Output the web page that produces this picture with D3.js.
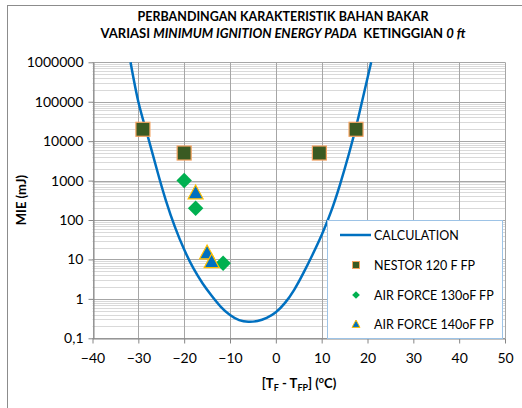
<!DOCTYPE html>
<html>
<head>
<meta charset="utf-8">
<script src="https://cdn.jsdelivr.net/npm/d3@7"></script>
<style>
  body { margin: 0; background: #fff; }
  svg { font-family: Lato, "Open Sans", sans-serif; }
</style>
</head>
<body>
<div id="chart"></div>
<script>
// calculation curve
const calcX = [-31.7, -30, -28, -26, -24, -22, -20, -18, -16, -14, -12, -10, -8, -6, -4, -2, 0, 2, 4, 6, 8, 10, 12, 14, 16, 18, 20.8];
const calcY = [1000000, 100000, 14100, 2000, 316, 66, 17.8, 6.0, 2.5, 1.2, 0.63, 0.39, 0.29, 0.263, 0.275, 0.33, 0.457, 0.79, 1.7, 4.5, 13.2, 41.7, 158, 794, 5000, 39800, 1000000];

// measured points
const nestorX = [-29, -20, 9.5, 17.5];
const nestorY = [20000, 5000, 5000, 20000];
const af130X = [-20, -17.5, -11.5];
const af130Y = [1000, 200, 8];
const af140X = [-17.5, -15, -14];
const af140Y = [500, 15, 9];

const xTicks = [-40, -30, -20, -10, 0, 10, 20, 30, 40, 50];
const yTicks = [0.1, 1, 10, 100, 1000, 10000, 100000, 1000000];
const yTickLabels = ["0,1", "1", "10", "100", "1000", "10000", "100000", "1000000"];
const legendLabels = ["CALCULATION", "NESTOR 120 F FP", "AIR FORCE 130oF FP", "AIR FORCE 140oF FP"];

const width = 522, height = 408;
const plot = {left: 92.5, right: 505, top: 62.3, bottom: 338.3};

const svg = d3.select("#chart")
    .append("svg")
    .attr("width", width)
    .attr("height", height);

// chart border
svg.append("rect")
    .attr("x", 7.5).attr("y", 5.5)
    .attr("width", 530).attr("height", 420)
    .attr("fill", "#fff")
    .attr("stroke", "#8c8c8c");

const x = d3.scaleLinear().domain([-40, 50]).range([plot.left, plot.right]);
const y = d3.scaleLog().domain([0.1, 1000000]).range([plot.bottom, plot.top]);

// minor gridlines
const minor = [];
yTicks.slice(0, -1).forEach(d => { for (let k = 2; k <= 9; k++) minor.push(d * k); });
svg.append("g").selectAll("line")
    .data(minor).enter().append("line")
    .attr("x1", plot.left).attr("x2", plot.right)
    .attr("y1", d => Math.round(y(d)) + 0.5).attr("y2", d => Math.round(y(d)) + 0.5)
    .attr("stroke", "#d9d9d9");

// major horizontal gridlines
svg.append("g").selectAll("line")
    .data(yTicks).enter().append("line")
    .attr("x1", plot.left).attr("x2", plot.right)
    .attr("y1", d => Math.round(y(d)) + 0.5).attr("y2", d => Math.round(y(d)) + 0.5)
    .attr("stroke", "#a6a6a6");

// vertical gridlines
svg.append("g").selectAll("line")
    .data(xTicks).enter().append("line")
    .attr("y1", plot.top).attr("y2", plot.bottom)
    .attr("x1", d => Math.round(x(d)) + 0.5).attr("x2", d => Math.round(x(d)) + 0.5)
    .attr("stroke", "#a6a6a6");

// axes
const xAxis = svg.append("g")
    .attr("transform", "translate(0," + (Math.round(plot.bottom) + 0.5) + ")")
    .call(d3.axisBottom(x).tickValues(xTicks).tickSize(5).tickPadding(10).tickSizeOuter(0));
const yAxis = svg.append("g")
    .attr("transform", "translate(" + (Math.round(plot.left) + 0.5) + ",0)")
    .call(d3.axisLeft(y).tickValues(yTicks).tickFormat((d, i) => yTickLabels[i]).tickSize(5).tickPadding(5).tickSizeOuter(0));
[xAxis, yAxis].forEach(a => {
    a.select(".domain").attr("stroke", "#868686");
    a.selectAll(".tick line").attr("stroke", "#868686");
    a.selectAll(".tick text").attr("fill", "#000").style("font-size", "14px").style("font-family", "Lato, sans-serif");
});

// calculation curve
const line = d3.line()
    .x(d => x(d[0]))
    .y(d => y(d[1]))
    .curve(d3.curveNatural);
svg.append("path")
    .datum(calcX.map((d, i) => [d, calcY[i]]))
    .attr("d", line)
    .attr("fill", "none")
    .attr("stroke", "#0070c0")
    .attr("stroke-width", 2.5);

// nestor squares
svg.append("g").selectAll("rect")
    .data(nestorX).enter().append("rect")
    .attr("x", d => x(d) - 7)
    .attr("y", (d, i) => y(nestorY[i]) - 7)
    .attr("width", 14).attr("height", 14)
    .attr("fill", "#3a5a22")
    .attr("stroke", "#f4a261")
    .attr("stroke-width", 1.2);

// air force 130 diamonds
const diamond = d3.symbol().type(d3.symbolSquare).size(120);
svg.append("g").selectAll("path")
    .data(af130X).enter().append("path")
    .attr("d", diamond)
    .attr("transform", (d, i) => "translate(" + x(d) + "," + y(af130Y[i]) + ") rotate(45)")
    .attr("fill", "#00b050");

// air force 140 triangles
function tri(cx, cy, s) {
    return "M" + cx + "," + (cy - s) + "L" + (cx + s) + "," + (cy + s * 0.85) + "L" + (cx - s) + "," + (cy + s * 0.85) + "Z";
}
svg.append("g").selectAll("path")
    .data(af140X).enter().append("path")
    .attr("d", (d, i) => tri(x(d), y(af140Y[i]), 7.5))
    .attr("fill", "#0070c0")
    .attr("stroke", "#ffc000")
    .attr("stroke-width", 1.2);

// legend
const lg = svg.append("g");
lg.append("rect")
    .attr("x", 327.5).attr("y", 220.5)
    .attr("width", 175).attr("height", 118)
    .attr("fill", "#fff")
    .attr("stroke", "#9dc3e6");
const rowY = [235, 265, 295, 324];
lg.append("line")
    .attr("x1", 340).attr("x2", 371)
    .attr("y1", rowY[0]).attr("y2", rowY[0])
    .attr("stroke", "#0070c0").attr("stroke-width", 2.5);
lg.append("rect")
    .attr("x", 352.5).attr("y", rowY[1] - 3.5)
    .attr("width", 7).attr("height", 7)
    .attr("fill", "#3a5a22").attr("stroke", "#f4a261");
lg.append("path")
    .attr("d", d3.symbol().type(d3.symbolSquare).size(30))
    .attr("transform", "translate(356," + rowY[2] + ") rotate(45)")
    .attr("fill", "#00b050");
lg.append("path")
    .attr("d", tri(356, rowY[3], 4))
    .attr("fill", "#0070c0").attr("stroke", "#ffc000");
lg.selectAll("text.lab")
    .data(legendLabels).enter().append("text")
    .attr("class", "lab")
    .attr("x", 374)
    .attr("y", (d, i) => rowY[i])
    .attr("dy", "0.36em")
    .style("font-size", "12.5px")
    .text(d => d);

// title
const title = svg.append("text")
    .attr("x", 283).attr("y", 21)
    .attr("text-anchor", "middle")
    .style("font-size", "12.5px")
    .style("font-weight", "bold");
title.append("tspan").text("PERBANDINGAN KARAKTERISTIK BAHAN BAKAR");
const t2 = svg.append("text")
    .attr("x", 283).attr("y", 38)
    .attr("text-anchor", "middle")
    .style("font-size", "13px")
    .style("font-weight", "bold")
    .attr("xml:space", "preserve");
t2.append("tspan").text("VARIASI ");
t2.append("tspan").style("font-style", "italic").text("MINIMUM IGNITION ENERGY PADA");
t2.append("tspan").text("  KETINGGIAN ");
t2.append("tspan").style("font-style", "italic").text("0 ft");

// axis titles
svg.append("text")
    .attr("transform", "translate(26,200) rotate(-90)")
    .attr("text-anchor", "middle")
    .style("font-size", "13px")
    .style("font-weight", "bold")
    .text("MIE (mJ)");

const xt = svg.append("text")
    .attr("x", 299).attr("y", 388)
    .attr("text-anchor", "middle")
    .style("font-size", "13px")
    .style("font-weight", "bold");
xt.append("tspan").text("[T");
xt.append("tspan").attr("dy", 3).style("font-size", "9px").text("F");
xt.append("tspan").attr("dy", -3).text(" - T");
xt.append("tspan").attr("dy", 3).style("font-size", "9px").text("FP");
xt.append("tspan").attr("dy", -3).text("] (");
xt.append("tspan").attr("dy", -5).style("font-size", "9px").text("o");
xt.append("tspan").attr("dy", 5).text("C)");
</script>
</body>
</html>
